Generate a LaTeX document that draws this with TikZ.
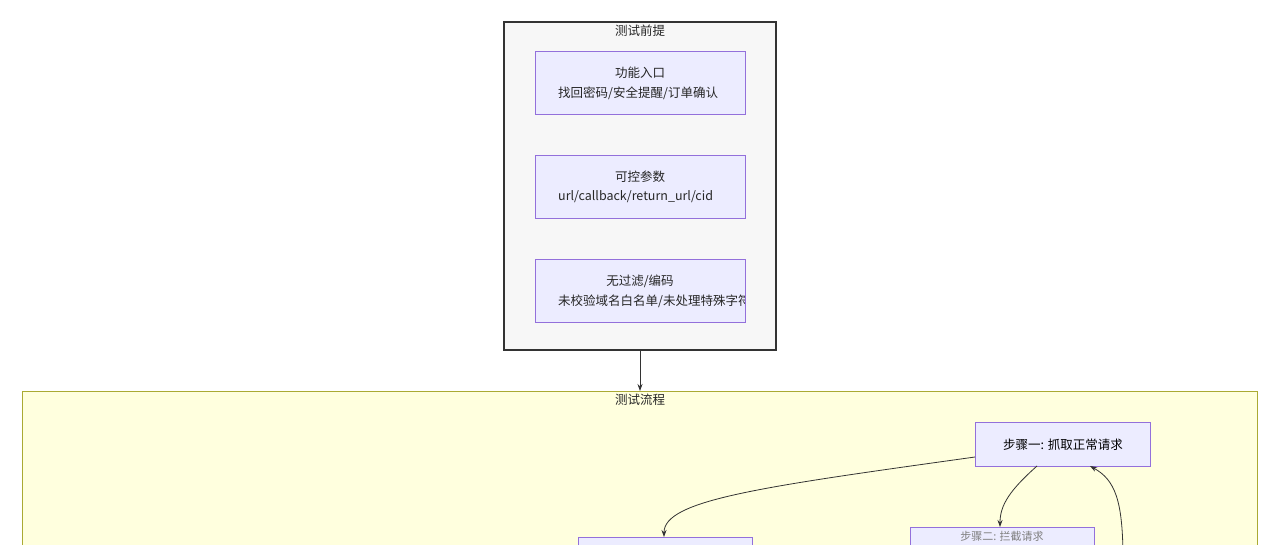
\documentclass[tikz,border=0pt]{standalone}
\usepackage{fontspec}
\setmainfont{Noto Sans CJK SC}
\usetikzlibrary{arrows.meta}
\definecolor{nodefill}{HTML}{ECECFF}
\definecolor{nodeline}{HTML}{9370DB}
\definecolor{clfill}{HTML}{FFFFDE}
\definecolor{clline}{HTML}{AAAA33}
\begin{document}
\begin{tikzpicture}[x=1pt,y=-1pt,font=\fontsize{12.5}{14}\selectfont,
  box/.style={draw=nodeline,fill=nodefill,line width=0.8pt},
  arr/.style={-{Stealth[length=7pt,width=5pt]},line width=0.8pt,draw=black!80},
  txt/.style={inner sep=0pt,text=black!85,align=center}]
\useasboundingbox (0,0) rectangle (1280,544);
\clip (0,0) rectangle (1280,544);
\fill[white] (0,0) rectangle (1280,544);
% premise cluster
\draw[fill=black!3,draw=black!80,line width=1.5pt] (504,22) rectangle (776,350);
\node[txt] (t1) at (640,31) {测试前提};
\coordinate (c1b) at (640,351);
\draw[box] (535,51) rectangle (745,114);
\draw[box] (535,155) rectangle (745,218);
\draw[box] (535,259) rectangle (745,322);
\node[txt] (a1) at (640,73) {功能入口};
\node[txt] (b1) at (640,177) {可控参数};
\node[txt] (c1) at (640,281) {无过滤/编码};
\begin{scope}
\clip (536,51) rectangle (744,322);
\node[txt,anchor=west] (a2) at (558,93) {找回密码/安全提醒/订单确认};
\node[txt,anchor=west] (b2) at (558,197) {url/callback/return\_url/cid};
\node[txt,anchor=west] (c2) at (558,301) {未校验域名白名单/未处理特殊字符};
\end{scope}
% flow cluster
\draw[fill=clfill,draw=clline,line width=0.8pt] (22,391) rectangle (1257,560);
\node[txt] (t2) at (640,400) {测试流程};
\coordinate (c2t) at (640,391);
\draw[arr] (c1b) -- (c2t);
\node[box,minimum width=175pt,minimum height=44pt,anchor=north west,inner sep=0pt] (s1) at (975,422) {步骤一: 抓取正常请求};
\node[box,minimum width=174pt,minimum height=44pt,anchor=north west,inner sep=0pt] (s2) at (578,537) {};
\node[box,minimum width=184pt,minimum height=30pt,anchor=north west,inner sep=0pt] (s3) at (910,527) {};
\node[txt,text=black!50,font=\fontsize{11}{12}\selectfont] (s3t) at (1002,536) {步骤二: 拦截请求};
\coordinate (s1l) at (975,457);
\coordinate (s2t) at (664,537);
\coordinate (s1b) at (1037,466);
\coordinate (s3top) at (1000,527);
\coordinate (bk) at (1123,560);
\coordinate (s1br) at (1090,466);
\draw[arr] (s1l) .. controls (760,487) and (664,500) .. (s2t);
\draw[arr] (s1b) .. controls (1010,490) and (1000,505) .. (s3top);
\draw[arr] (bk) .. controls (1123,500) and (1115,480) .. (s1br);
\end{tikzpicture}
\end{document}
